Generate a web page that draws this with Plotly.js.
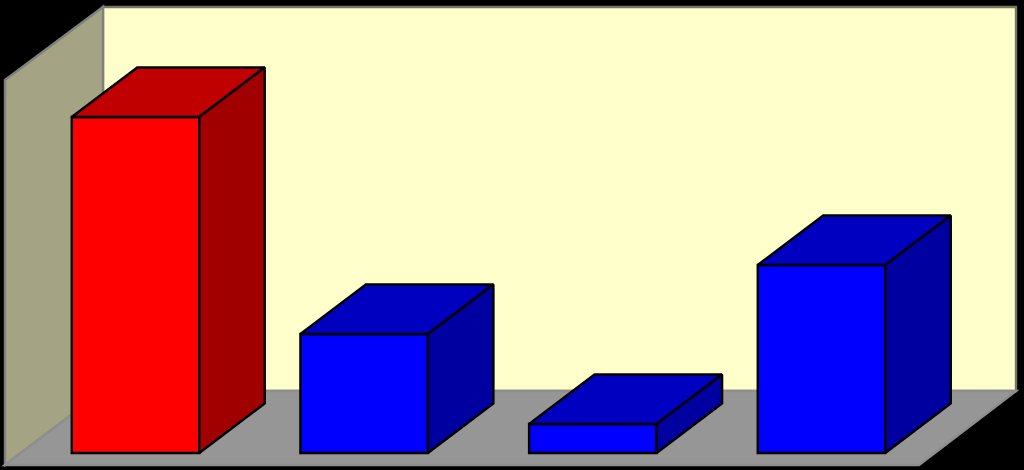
<!DOCTYPE html>
<html>
<head>
<meta charset="utf-8">
<script src="https://cdn.plot.ly/plotly-3.0.1.min.js"></script>
<style>html,body{margin:0;padding:0;background:#000;}#chart{width:1024px;height:470px;}</style>
</head>
<body>
<div id="chart"></div>
<script>
// Data (no labels are shown in the reference)
var categories = [0, 1, 2, 3];
var values = [336, 119, 29, 188];
var frontColors = ['#FF0000', '#0000FF', '#0000FF', '#0000FF'];
var topColors = ['#C00000', '#0000C0', '#0000C0', '#0000C0'];
var sideColors = ['#A00000', '#0000A0', '#0000A0', '#0000A0'];

// Axis scale: one category step spans 228.67 px, one value unit is 1 px
var step = 228.67;
var xRange = [-135.5 / step, (1024 - 135.5) / step];
var yRange = [-17, 453];
var barWidth = 127.5 / step;
var depthX = 65.5 / step;
var depthY = 49.5;
var edge = 2.4;

function X(px) { return (px - 135.5) / step; }
function Y(px) { return 453 - px; }
function poly(pts) {
  return 'M' + pts.map(function (p) { return X(p[0]) + ',' + Y(p[1]); }).join('L') + 'Z';
}

var wallShape = function (pts, fill, line) {
  return { type: 'path', layer: 'below', xref: 'x', yref: 'y', path: poly(pts),
           fillcolor: fill, line: { color: line, width: 2.4 } };
};

var shapes = [
  wallShape([[103, 7], [1016, 7], [1016, 391], [103, 391]], '#FFFFCC', '#777766'),
  wallShape([[5, 80], [103, 7], [103, 391], [5, 465]], '#A4A484', '#808080'),
  wallShape([[5, 465], [103, 391], [1016, 391], [919, 465]], '#969696', '#8E8E8E')
];

var traces = [{
  type: 'bar',
  x: categories,
  y: values,
  width: barWidth,
  marker: { color: frontColors, line: { color: '#000000', width: edge } },
  hoverinfo: 'y'
}];

categories.forEach(function (c, i) {
  var l = c - barWidth / 2, r = c + barWidth / 2, v = values[i];
  traces.push({
    type: 'scatter', mode: 'lines', hoverinfo: 'skip', fill: 'toself',
    fillcolor: topColors[i], line: { color: '#000000', width: edge },
    x: [l, r, r + depthX, l + depthX, l],
    y: [v, v, v + depthY, v + depthY, v]
  });
  traces.push({
    type: 'scatter', mode: 'lines', hoverinfo: 'skip', fill: 'toself',
    fillcolor: sideColors[i], line: { color: '#000000', width: edge },
    x: [r, r + depthX, r + depthX, r, r],
    y: [v, v + depthY, depthY, 0, v]
  });
});

var layout = {
  width: 1024,
  height: 470,
  margin: { l: 0, r: 0, t: 0, b: 0, pad: 0 },
  paper_bgcolor: '#000000',
  plot_bgcolor: '#000000',
  showlegend: false,
  xaxis: { range: xRange, visible: false, fixedrange: true },
  yaxis: { range: yRange, visible: false, fixedrange: true },
  shapes: shapes
};

Plotly.newPlot('chart', traces, layout, { displayModeBar: false, staticPlot: true });
</script>
</body>
</html>
